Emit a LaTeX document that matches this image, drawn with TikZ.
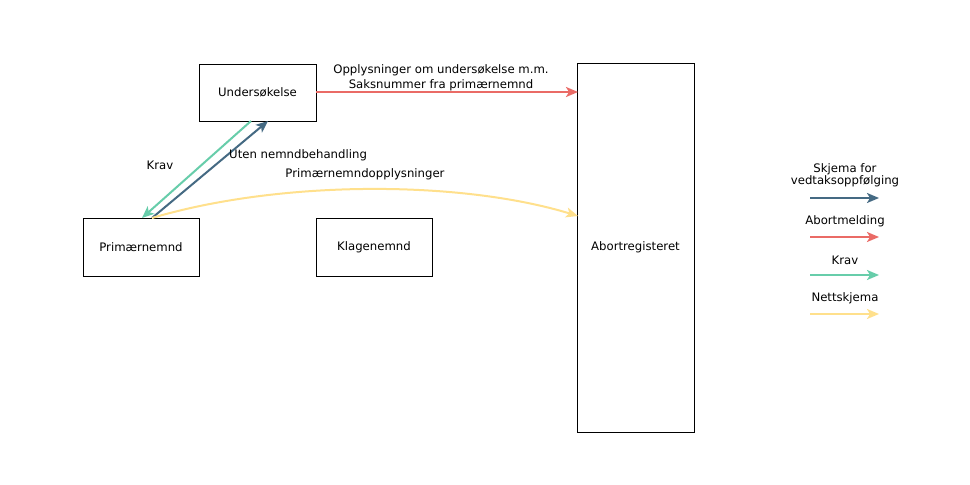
\documentclass[tikz,border=0pt]{standalone}
\usepackage{fontspec}
\setmainfont{DejaVu Sans}
\usetikzlibrary{arrows.meta}
\definecolor{cblue}{RGB}{69,106,131}
\definecolor{cred}{RGB}{234,107,102}
\definecolor{cgreen}{RGB}{103,205,170}
\definecolor{cyellow}{RGB}{255,224,140}
\tikzset{
  box/.style={draw=black, line width=0.8pt, fill=white, inner sep=0pt, font=\fontsize{11.7}{14}\selectfont},
  lbl/.style={inner sep=0pt, font=\fontsize{11.7}{14}\selectfont, align=center},
  conn/.style={line width=2pt, -{Stealth[length=12pt,width=10pt,inset=3pt]}},
}
\begin{document}
\begin{tikzpicture}[x=1pt,y=-1pt]
\useasboundingbox (0,0) rectangle (970,485);
\fill[white] (0,0) rectangle (970,485);
\node[box, minimum width=117pt, minimum height=57pt] (und) at (257.5,92.5) {Undersøkelse};
\node[box, minimum width=116pt, minimum height=58pt] (prim) at (141,247) {Primærnemnd};
\node[box, minimum width=116pt, minimum height=58pt] (klag) at (374,247) {Klagenemnd};
\node[box, minimum width=117pt, minimum height=369pt] (abort) at (635.5,247.5) {Abortregisteret};

\coordinate (redS) at (316,92);
\coordinate (redE) at (578,92);
\draw[conn, cred] (redS) -- (redE);
\node[lbl] (l1) at (441,70) {Opplysninger om undersøkelse m.m.};
\node[lbl] (l2) at (441,85) {Saksnummer fra primærnemnd};

\coordinate (gS) at (251,121);
\coordinate (gE) at (142,218);
\draw[conn, cgreen] (gS) -- (gE);
\coordinate (bS) at (152,218);
\coordinate (bE) at (268,121);
\draw[conn, cblue] (bS) -- (bE);
\node[lbl] (krav) at (160,165) {Krav};
\node[lbl, anchor=west] (uten) at (229,155) {Uten nemndbehandling};

\coordinate (yE) at (578,216);
\draw[conn, cyellow] (bS) .. controls (280,180) and (460,180) .. (yE);
\node[lbl] (pno) at (365,174) {Primærnemndopplysninger};

% legend
\node[lbl] (lg1) at (845,175) {Skjema for\\[-2pt]vedtaksoppfølging};
\coordinate (a1) at (810,198); \coordinate (b1) at (879,198);
\draw[conn, cblue] (a1) -- (b1);
\node[lbl] (lg2) at (845,221) {Abortmelding};
\coordinate (a2) at (810,237); \coordinate (b2) at (879,237);
\draw[conn, cred] (a2) -- (b2);
\node[lbl] (lg3) at (845,260) {Krav};
\coordinate (a3) at (810,275); \coordinate (b3) at (879,275);
\draw[conn, cgreen] (a3) -- (b3);
\node[lbl] (lg4) at (845,298) {Nettskjema};
\coordinate (a4) at (810,314); \coordinate (b4) at (879,314);
\draw[conn, cyellow] (a4) -- (b4);
\end{tikzpicture}
\end{document}
